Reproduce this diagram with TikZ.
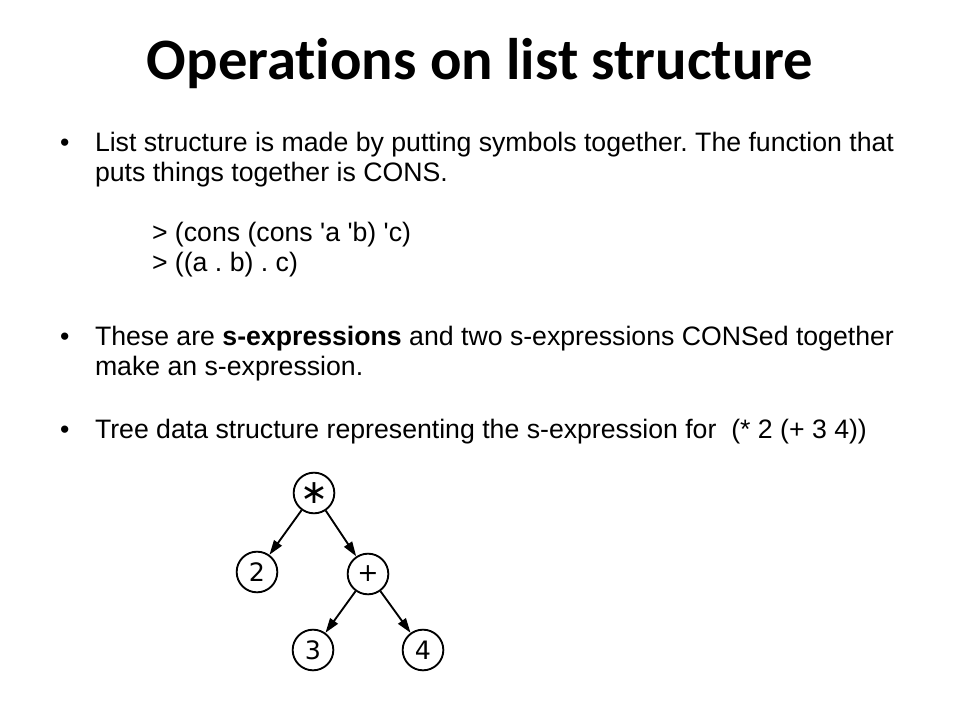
\documentclass[tikz,border=0pt]{standalone}
\usepackage{fontspec}
\setmainfont{Liberation Sans}
\newfontfamily\titlefont[Ligatures=NoCommon]{Carlito}
\newfontfamily\treefont{DejaVu Sans}
\usetikzlibrary{arrows.meta}
\frenchspacing
\begin{document}
\begin{tikzpicture}[x=0.75pt,y=-0.75pt,
  line/.style={anchor=base west,inner sep=0pt,outer sep=0pt,font=\fontsize{20}{22}\selectfont},
  tnode/.style={circle,draw,line width=1.4pt,minimum size=30.5pt,inner sep=0pt,font=\treefont\fontsize{19}{20}\selectfont},
  tedge/.style={line width=1.4pt,-{Triangle[length=11pt,width=7pt]}}]
\useasboundingbox[fill=white] (0,0) rectangle (960,720);
\node[anchor=base,inner sep=0pt,font=\titlefont\bfseries\fontsize{44}{48}\selectfont] (title) at (480,80) {Operations on list structure};
\node[line] (b1) at (60,152) {\textbullet};
\node[line] (l1) at (95,152) {List structure is made by putting symbols together. The function that};
\node[line] (l2) at (95,182) {puts things together is CONS.};
\node[line] (c1) at (152,242) {> (cons (cons \textquotesingle a \textquotesingle b) \textquotesingle c)};
\node[line] (c2) at (152,272) {> ((a . b) . c)};
\node[line] (b2) at (60,345) {\textbullet};
\node[line] (l3) at (95,345) {These are \textbf{s-expressions} and two s-expressions CONSed together};
\node[line] (l4) at (95,375) {make an s-expression.};
\node[line] (b3) at (60,438) {\textbullet};
\node[line] (l5) at (95,438) {Tree data structure representing the s-expression for\ \ (* 2 (+ 3 4))};
\node[tnode] (mul) at (314,493) {\fontsize{25}{25}\selectfont ∗};
\node[tnode] (two) at (257,572) {2};
\node[tnode] (plus) at (368,574) {+};
\node[tnode] (three) at (313,650) {3};
\node[tnode] (four) at (423,650) {4};
\draw[tedge] (mul) -- (two);
\draw[tedge] (mul) -- (plus);
\draw[tedge] (plus) -- (three);
\draw[tedge] (plus) -- (four);
\end{tikzpicture}
\end{document}
